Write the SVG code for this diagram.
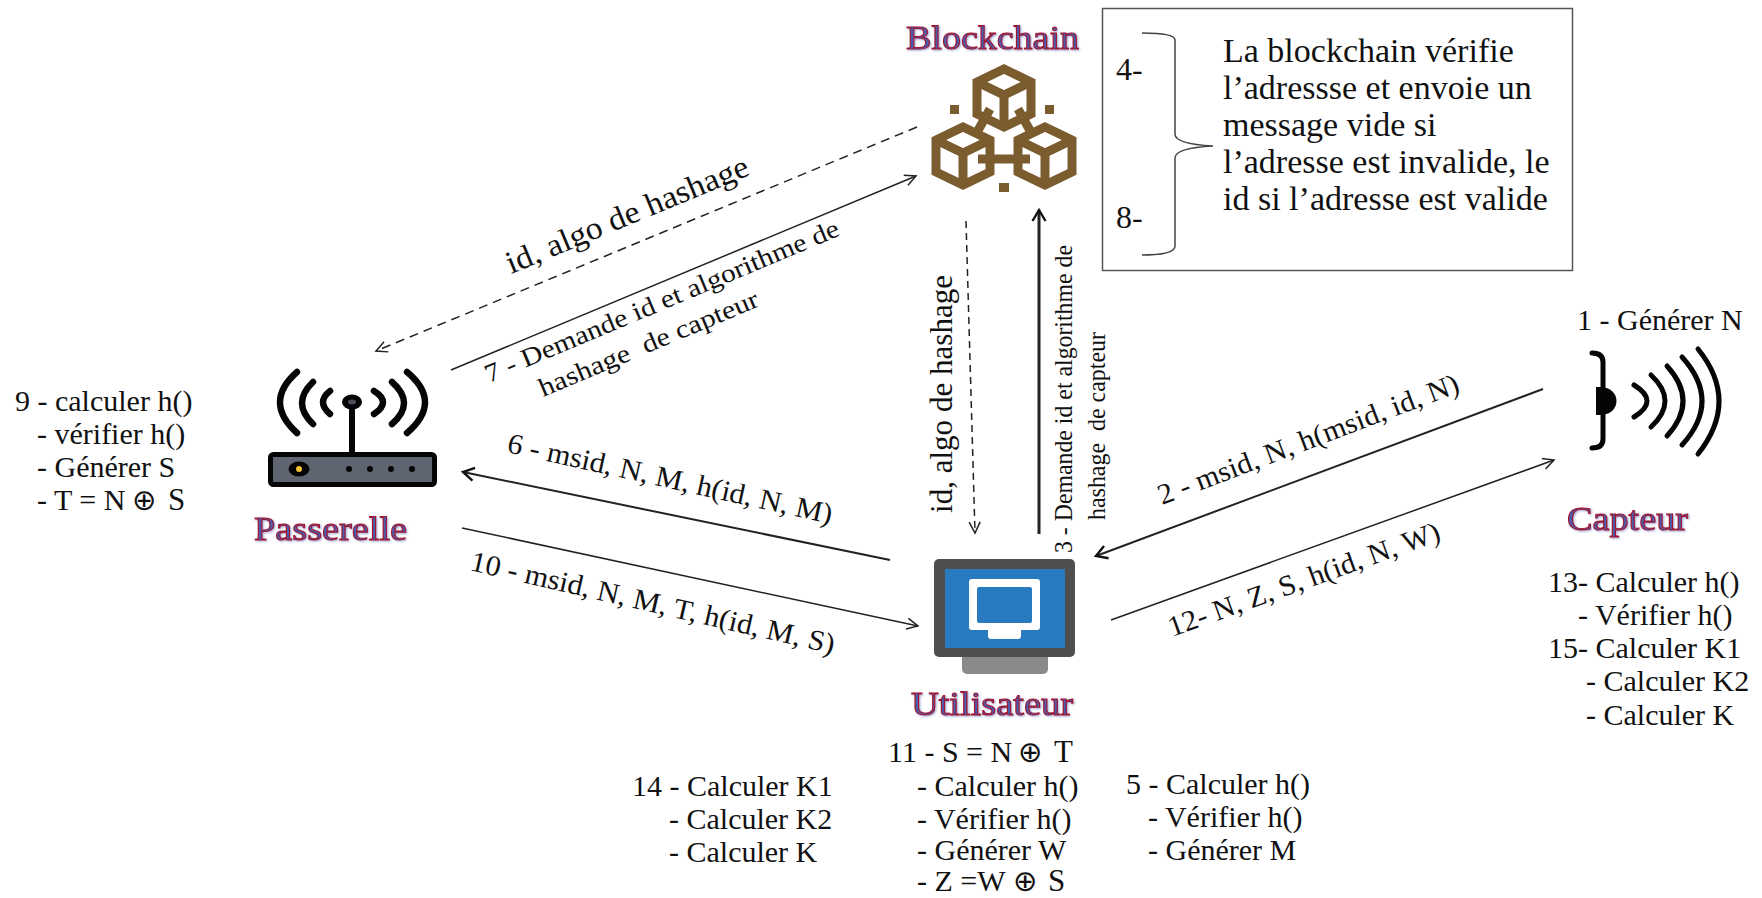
<svg xmlns="http://www.w3.org/2000/svg" width="1762" height="898" viewBox="0 0 1762 898">
<style>
text{font-family:"Liberation Serif","DejaVu Serif",serif;fill:#111}
.t{font-size:30px}
.m{font-size:34px}
.n{font-size:32px}
.r{font-size:29px}
.c{font-size:26px}
.o{font-family:"DejaVu Sans",sans-serif;font-size:29px}
.s{font-size:31px}
.lab{font-size:33px;fill:#4a5cae;stroke:#a5142a;stroke-width:1px;filter:drop-shadow(1px 1px 1px #9aa6d8)}
.con{fill:none;stroke:#222;stroke-width:1.5}
.b{fill:none;stroke:#7a5c2e;stroke-width:9}
.sq{fill:#7a5c2e}
.arc{fill:none;stroke:#050505;stroke-width:6.500;stroke-linecap:round}
.sen{fill:none;stroke:#050505;stroke-width:5;stroke-linecap:round}
</style>
<defs>
<marker id="ah" markerUnits="userSpaceOnUse" markerWidth="18" markerHeight="18" refX="14" refY="9" orient="auto"><path d="M3 3.500L14 9L3 14.500" fill="none" stroke="#222" stroke-width="1.500"/></marker>
<marker id="ahb" markerUnits="userSpaceOnUse" markerWidth="18" markerHeight="18" refX="14" refY="9" orient="auto"><path d="M3 2.500L14 9L3 15.500" fill="none" stroke="#111" stroke-width="2.400"/></marker>
<g id="cube"><polygon class="b" points="0,-28 27,-15 27,17 0,30 -27,17 -27,-15"/><path class="b" d="M-27,-15L0,-2L27,-15M0,-2V30"/></g>
</defs>
<rect width="1762" height="898" fill="#fff"/>
<g id="connectors">
<path class="con" stroke-dasharray="9 6" marker-end="url(#ah)" d="M917 127L376 351"/>
<path class="con" marker-end="url(#ah)" d="M451 370L916 176"/>
<path class="con" style="stroke-width:2" marker-end="url(#ahb)" d="M890 560L463 472"/>
<path class="con" marker-end="url(#ah)" d="M462 528L918 626"/>
<path class="con" stroke-dasharray="7 5" marker-end="url(#ah)" d="M966 221L975 533"/>
<path class="con" style="stroke-width:3" marker-end="url(#ahb)" d="M1039 534V210"/>
<path class="con" style="stroke-width:2" marker-end="url(#ahb)" d="M1543 389L1096 556"/>
<path class="con" marker-end="url(#ah)" d="M1111 620L1554 460"/>
<text class="n" transform="translate(511 274) rotate(-22.500)" textLength="260" lengthAdjust="spacingAndGlyphs">id, algo de hashage</text>
<text class="c" transform="translate(489 383) rotate(-22.800)" textLength="382" lengthAdjust="spacingAndGlyphs">7 - Demande id et algorithme de</text>
<text class="c" transform="translate(543 397) rotate(-22.800)" textLength="236" lengthAdjust="spacingAndGlyphs" xml:space="preserve">hashage  de capteur</text>
<text class="r" transform="translate(506 452) rotate(12.500)" textLength="332" lengthAdjust="spacingAndGlyphs">6 - msid, N, M, h(id, N, M)</text>
<text class="r" transform="translate(469 570) rotate(13)" textLength="373" lengthAdjust="spacingAndGlyphs">10 - msid, N, M, T, h(id, M, S)</text>
<text class="n" transform="translate(952 513) rotate(-90)" textLength="238" lengthAdjust="spacingAndGlyphs">id, algo de hashage</text>
<text class="c" transform="translate(1072 553) rotate(-90)" textLength="308" lengthAdjust="spacingAndGlyphs">3 - Demande id et algorithme de</text>
<text class="c" transform="translate(1105 520) rotate(-90)" textLength="188" lengthAdjust="spacingAndGlyphs" xml:space="preserve">hashage  de capteur</text>
<text class="r" transform="translate(1162 505) rotate(-20.800)" textLength="320" lengthAdjust="spacingAndGlyphs">2 - msid, N, h(msid, id, N)</text>
<text class="r" transform="translate(1172 637) rotate(-19.800)" textLength="287" lengthAdjust="spacingAndGlyphs">12- N, Z, S, h(id, N, W)</text>
</g>
<g id="blockchain">
<text class="lab" x="906" y="49" textLength="173" lengthAdjust="spacingAndGlyphs">Blockchain</text>
<use href="#cube" x="1004" y="97"/>
<use href="#cube" x="963" y="155"/>
<use href="#cube" x="1045" y="155"/>
<path class="b" d="M990 109L976 134M1018 109L1032 134M978 159H1030"/>
<rect class="sq" x="950" y="105" width="9" height="9"/><rect class="sq" x="1045" y="105" width="9" height="9"/><rect class="sq" x="999" y="183" width="10" height="9"/>
</g>
<g id="note">
<rect x="1102.500" y="8.500" width="470" height="262" fill="none" stroke="#555" stroke-width="1.500"/>
<path d="M1142 33Q1175 33 1175 40V134Q1175 144 1213 146Q1175 148 1175 158V246Q1175 255 1142 255" fill="none" stroke="#444" stroke-width="1.500"/>
<text class="n" x="1116" y="80">4-</text>
<text class="n" x="1116" y="228">8-</text>
<text class="m" x="1223" y="62">La blockchain vérifie</text>
<text class="m" x="1223" y="99">l’adressse et envoie un</text>
<text class="m" x="1223" y="136">message vide si</text>
<text class="m" x="1223" y="173">l’adresse est invalide, le</text>
<text class="m" x="1223" y="210">id si l’adresse est valide</text>
</g>
<g id="passerelle">
<rect x="270.500" y="454.500" width="164" height="30" rx="3" fill="#5e6570" stroke="#050505" stroke-width="5"/>
<ellipse cx="299" cy="469" rx="10.500" ry="7.500" fill="#050505"/><circle cx="299" cy="469" r="3" fill="#f2c230"/>
<g fill="#050505"><circle cx="349" cy="469" r="3"/><circle cx="370" cy="469" r="3"/><circle cx="391" cy="469" r="3"/><circle cx="412" cy="469" r="3"/></g>
<path d="M352 403V452" stroke="#050505" stroke-width="6"/>
<ellipse cx="352" cy="402" rx="10" ry="7.500" fill="#050505"/><ellipse cx="352" cy="402" rx="4" ry="2.500" fill="#4a4f58"/>
<path class="arc" d="M297 372Q263 402 297 433M313 382Q291 403 313 424M330 391Q316 402 330 414M407 372Q443 402 407 433M392 382Q416 403 392 424M374 391Q392 402 374 414"/>
<text class="lab" x="254" y="540" textLength="153" lengthAdjust="spacingAndGlyphs">Passerelle</text>
</g>
<g id="utilisateur">
<rect x="962" y="640" width="86" height="34" rx="5" fill="#8a8a8a"/>
<rect x="934" y="559" width="141" height="98" rx="5" fill="#4f4f4f"/>
<rect x="945" y="569" width="120" height="79" fill="#2a7abf"/>
<rect x="988" y="625" width="33" height="14" rx="3" fill="#fff"/>
<rect x="969" y="579" width="71" height="51" rx="3" fill="#fff"/>
<rect x="977" y="587" width="55" height="36" rx="2" fill="#2a7abf"/>
<text class="lab" x="911" y="715" textLength="162" lengthAdjust="spacingAndGlyphs">Utilisateur</text>
</g>
<g id="capteur">
<path class="sen" d="M1592 353Q1603 353 1603 362V439Q1603 448 1592 448"/>
<path d="M1596 387H1600C1622 387 1622 415 1600 415H1596Z" fill="#050505"/>
<path class="sen" d="M1634 385Q1660 401 1634 417M1651 375Q1679 401 1651 427M1667 366Q1699 401 1667 436M1682 357Q1722 401 1682 445M1698 349Q1740 401 1698 454"/>
<text class="lab" x="1567" y="530" textLength="121" lengthAdjust="spacingAndGlyphs">Capteur</text>
</g>
<g id="notes">
<text class="t" x="15" y="411">9 - calculer h()</text>
<text class="t" x="37" y="444">- vérifier h()</text>
<text class="t" x="37" y="477">- Générer S</text>
<text class="t" x="37" y="510">- T = N <tspan class="o" x="132">⊕</tspan> <tspan class="s" x="168">S</tspan></text>
<text class="t" x="1577" y="330">1 - Générer N</text>
<text class="t" x="1548" y="592">13- Calculer h()</text>
<text class="t" x="1578" y="625">- Vérifier h()</text>
<text class="t" x="1548" y="658">15- Calculer K1</text>
<text class="t" x="1586" y="691">- Calculer K2</text>
<text class="t" x="1586" y="725">- Calculer K</text>
<text class="t" x="632" y="796">14 - Calculer K1</text>
<text class="t" x="669" y="829">- Calculer K2</text>
<text class="t" x="669" y="862">- Calculer K</text>
<text class="t" x="888" y="762">11 - S = N <tspan class="o" x="1018">⊕</tspan> <tspan class="s" x="1054">T</tspan></text>
<text class="t" x="917" y="796">- Calculer h()</text>
<text class="t" x="917" y="829">- Vérifier h()</text>
<text class="t" x="917" y="860">- Générer W</text>
<text class="t" x="917" y="891">- Z =W <tspan class="o" x="1013">⊕</tspan> <tspan class="s" x="1048">S</tspan></text>
<text class="t" x="1126" y="794">5 - Calculer h()</text>
<text class="t" x="1148" y="827">- Vérifier h()</text>
<text class="t" x="1148" y="860">- Générer M</text>
</g>
</svg>
